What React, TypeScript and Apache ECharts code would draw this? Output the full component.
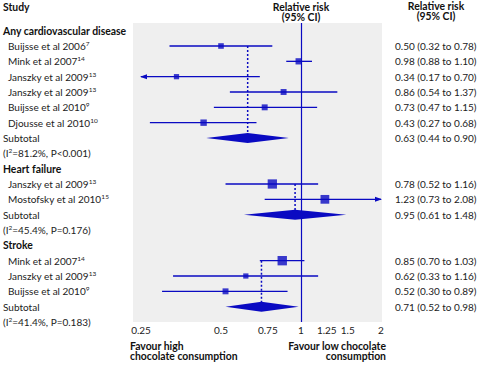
import React, { useEffect, useRef } from "react";
import * as echarts from "echarts";

const groupNames = ["Any cardiovascular disease", "Heart failure", "Stroke"];
const studyNames = [
  "Buijsse et al 2006", "Mink et al 2007", "Janszky et al 2009", "Janszky et al 2009",
  "Buijsse et al 2010", "Djousse et al 2010",
  "Janszky et al 2009", "Mostofsky et al 2010",
  "Mink et al 2007", "Janszky et al 2009", "Buijsse et al 2010",
];
const studyRefs = ["7", "14", "13", "13", "9", "10", "13", "15", "14", "13", "9"];
const studyGroup = [0, 0, 0, 0, 0, 0, 1, 1, 2, 2, 2];
const studyRR = [0.50, 0.98, 0.34, 0.86, 0.73, 0.43, 0.78, 1.23, 0.85, 0.62, 0.52];
const studyLo = [0.32, 0.88, 0.17, 0.54, 0.47, 0.27, 0.52, 0.73, 0.70, 0.33, 0.30];
const studyHi = [0.78, 1.10, 0.70, 1.37, 1.15, 0.68, 1.16, 2.08, 1.03, 1.16, 0.89];
const studyWeight = [16, 20, 14, 18, 18, 21, 44, 39, 45, 14, 18];
const pooledRR = [0.63, 0.95, 0.71];
const pooledLo = [0.44, 0.61, 0.52];
const pooledHi = [0.90, 1.48, 0.98];
const hetI2 = ["81.2", "45.4", "41.4"];
const hetP = ["<0.001", "=0.176", "=0.183"];
const xTicks = [0.25, 0.5, 0.75, 1, 1.25, 1.5, 2];

const BLUE = "#0a0ac2";
const TXT = "#222";
const FONT = "Lato";
const BOLD_SIZE = 10.4;

const fmt = (v: number) => v.toFixed(2);
const ciText = (e: number, l: number, h: number) => `${fmt(e)} (${fmt(l)} to ${fmt(h)})`;

// build rows
const leftLabels: string[] = [];
const rightLabels: Record<number, string> = {};
const studyRow: number[] = [];
const groupFirstRow: number[] = [];
const groupSubRow: number[] = [];
groupNames.forEach((g, gi) => {
  leftLabels.push(`{b|${g}}`);
  studyNames.forEach((s, si) => {
    if (studyGroup[si] !== gi) return;
    const r = leftLabels.length;
    if (groupFirstRow[gi] === undefined) groupFirstRow[gi] = r;
    studyRow[si] = r;
    leftLabels.push(`{ind| }{n|${s}}{s|${studyRefs[si]}}`);
    rightLabels[r] = ciText(studyRR[si], studyLo[si], studyHi[si]);
  });
  const sr = leftLabels.length;
  groupSubRow[gi] = sr;
  leftLabels.push(`{n|Subtotal}`);
  rightLabels[sr] = ciText(pooledRR[gi], pooledLo[gi], pooledHi[gi]);
  leftLabels.push(`{n|(I}{s|2}{n|=${hetI2[gi]}%, P${hetP[gi]})}`);
});
const nRows = leftLabels.length;

const LN_MIN = Math.log(xTicks[0]);
const LN_MAX = Math.log(xTicks[xTicks.length - 1]);
const PX_PER_LN = 240 / (LN_MAX - LN_MIN);

export default function App() {
  const ref = useRef<HTMLDivElement>(null);
  useEffect(() => {
    if (!ref.current) return;
    const chart = echarts.init(ref.current, undefined, { renderer: "svg" });
    const rowValues = leftLabels.map((_, i) => i);
    const rightRows = Object.keys(rightLabels).map(Number);
    const boldText = { fontFamily: FONT, fontWeight: "bold", fontSize: BOLD_SIZE, fill: "#111", lineHeight: 10.5 };

    const option: any = {
      animation: false,
      textStyle: { fontFamily: FONT, fontSize: 10, color: TXT },
      grid: {
        show: true,
        left: 133,
        right: 103,
        top: 23,
        bottom: 45,
        backgroundColor: "#efefef",
        borderWidth: 0,
      },
      xAxis: {
        type: "value",
        min: LN_MIN - 8 / PX_PER_LN,
        max: LN_MAX + 1 / PX_PER_LN,
        axisLine: { show: false },
        axisTick: { show: false },
        splitLine: { show: false },
        axisLabel: {
          customValues: xTicks.map((t) => Math.log(t)),
          formatter: (v: number) => {
            const e = Math.exp(v);
            let best = xTicks[0];
            xTicks.forEach((t) => { if (Math.abs(t - e) < Math.abs(best - e)) best = t; });
            return String(best);
          },
          margin: 3,
          color: TXT,
          fontFamily: FONT,
          fontSize: 10,
        },
      },
      yAxis: [
        {
          type: "value",
          min: -0.5,
          max: nRows - 1,
          inverse: true,
          axisLine: { show: false },
          axisTick: { show: false },
          splitLine: { show: false },
          axisLabel: {
            customValues: rowValues,
            formatter: (v: number) => leftLabels[Math.round(v)] || "",
            align: "left",
            margin: 130,
            rich: {
              b: { fontFamily: FONT, fontWeight: "bold", fontSize: BOLD_SIZE, color: "#111", lineHeight: 12 },
              n: { fontFamily: FONT, fontSize: 10, color: TXT, lineHeight: 12 },
              s: { fontFamily: FONT, fontSize: 6.5, color: TXT, verticalAlign: "top", lineHeight: 7 },
              ind: { width: 5, fontSize: 10, lineHeight: 12 },
            },
          },
        },
        {
          type: "value",
          position: "right",
          min: -0.5,
          max: nRows - 1,
          inverse: true,
          axisLine: { show: false },
          axisTick: { show: false },
          splitLine: { show: false },
          axisLabel: {
            customValues: rightRows,
            formatter: (v: number) => rightLabels[Math.round(v)] || "",
            align: "left",
            margin: 13,
            color: TXT,
            fontFamily: FONT,
            fontSize: 10,
          },
        },
      ],
      graphic: [
        { type: "text", x: 3, y: 7, style: { ...boldText, text: "Study", align: "left", verticalAlign: "middle" } },
        { type: "text", x: 301, y: 12, style: { ...boldText, text: "Relative risk\n(95% CI)", align: "center", verticalAlign: "middle" } },
        { type: "text", x: 436, y: 11, style: { ...boldText, text: "Relative risk\n(95% CI)", align: "center", verticalAlign: "middle" } },
        { type: "text", x: 130, y: 351, style: { ...boldText, text: "Favour high\nchocolate consumption", align: "left", verticalAlign: "middle" } },
        { type: "text", x: 386, y: 351, style: { ...boldText, text: "Favour low chocolate\nconsumption", align: "right", verticalAlign: "middle" } },
      ],
      series: [
        {
          type: "custom",
          clip: false,
          z: 3,
          data: groupNames.map((_, gi) => [Math.log(pooledRR[gi]), groupFirstRow[gi], groupSubRow[gi]]),
          renderItem: (_p: any, api: any) => {
            const a = api.coord([api.value(0), api.value(1)]);
            const b = api.coord([api.value(0), api.value(2)]);
            return {
              type: "line",
              shape: { x1: a[0], y1: a[1], x2: b[0], y2: b[1] },
              style: { stroke: BLUE, lineWidth: 1.5, lineDash: [2, 2] },
            };
          },
        },
        {
          type: "custom",
          clip: false,
          z: 4,
          data: studyNames.map((_, i) => [Math.log(studyLo[i]), Math.log(studyHi[i]), studyRow[i]]),
          renderItem: (_p: any, api: any) => {
            const lo = api.value(0), hi = api.value(1), row = api.value(2);
            const p1 = api.coord([Math.max(lo, LN_MIN), row]);
            const p2 = api.coord([Math.min(hi, LN_MAX), row]);
            const children: any[] = [
              { type: "line", shape: { x1: p1[0], y1: p1[1], x2: p2[0], y2: p2[1] }, style: { stroke: BLUE, lineWidth: 1.3 } },
            ];
            if (lo < LN_MIN) {
              children.push({ type: "polygon", shape: { points: [[p1[0] - 1, p1[1]], [p1[0] + 6, p1[1] - 2.5], [p1[0] + 6, p1[1] + 2.5]] }, style: { fill: BLUE } });
            }
            if (hi > LN_MAX) {
              children.push({ type: "polygon", shape: { points: [[p2[0] + 1, p2[1]], [p2[0] - 6, p2[1] - 2.5], [p2[0] - 6, p2[1] + 2.5]] }, style: { fill: BLUE } });
            }
            return { type: "group", children };
          },
        },
        {
          type: "custom",
          clip: false,
          z: 5,
          data: groupNames.map((_, gi) => [Math.log(pooledLo[gi]), Math.log(pooledRR[gi]), Math.log(pooledHi[gi]), groupSubRow[gi]]),
          renderItem: (_p: any, api: any) => {
            const row = api.value(3);
            const l = api.coord([api.value(0), row]);
            const e = api.coord([api.value(1), row]);
            const h = api.coord([api.value(2), row]);
            return {
              type: "polygon",
              shape: { points: [[l[0], l[1]], [e[0], e[1] - 5], [h[0], h[1]], [e[0], e[1] + 5]] },
              style: { fill: BLUE },
            };
          },
        },
        {
          type: "scatter",
          z: 6,
          symbol: "rect",
          symbolSize: (v: number[]) => 1.4 * Math.sqrt(v[2]),
          itemStyle: { color: BLUE },
          data: studyNames.map((_, i) => [Math.log(studyRR[i]), studyRow[i], studyWeight[i]]),
          markLine: {
            silent: true,
            symbol: "none",
            label: { show: false },
            lineStyle: { color: BLUE, width: 1.2, type: "solid" },
            data: [{ xAxis: 0 }],
          },
        },
      ],
    };
    chart.setOption(option);
    return () => chart.dispose();
  }, []);
  return <div ref={ref} style={{ position: "absolute", left: 0, top: 0, width: 485, height: 367 }} />;
}
